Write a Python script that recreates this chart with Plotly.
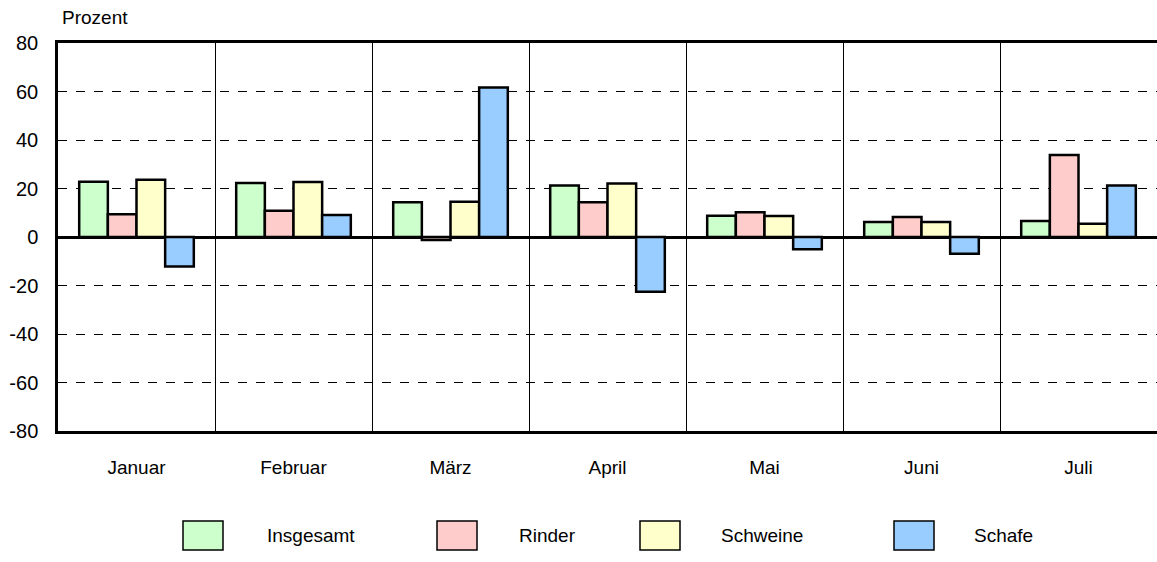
import plotly.graph_objects as go

months = ["Januar", "Februar", "März", "April", "Mai", "Juni", "Juli"]
series_names = ["Insgesamt", "Rinder", "Schweine", "Schafe"]
insgesamt = [22.8, 22.3, 14.3, 21.2, 8.8, 6.2, 6.6]
rinder = [9.4, 10.8, -1.2, 14.3, 10.2, 8.2, 33.8]
schweine = [23.6, 22.7, 14.5, 22.1, 8.7, 6.2, 5.5]
schafe = [-12.2, 9.1, 61.7, -22.6, -5.0, -6.9, 21.2]
y_ticks = [-80, -60, -40, -20, 0, 20, 40, 60, 80]
y_tick_labels = ["-80", "-60", "-40", "-20", "0", "20", "40", "60", "80"]

values = [insgesamt, rinder, schweine, schafe]
colors = ["#CCFFCC", "#FFCCCC", "#FFFFCC", "#99CCFF"]

FONT = "Liberation Sans, Arial, sans-serif"

fig = go.Figure()
for name, vals, col in zip(series_names, values, colors):
    fig.add_trace(go.Bar(
        x=months, y=vals, name=name,
        marker=dict(color=col, line=dict(color="black", width=2.5)),
        showlegend=False,
    ))

W, H = 1157, 562
L, R, T, B = 58, 0, 43, 131
pw = W - L - R
ph = H - T - B

def px2paper_x(px):
    return (px - L) / pw

def px2paper_y(py):
    return (H - B - py) / ph

# custom legend (big swatches)
sw_left = [183, 437, 640, 894]
txt_left = [265, 517, 719, 972]
sw_w, sw_top, sw_bot = 40, 521, 550
shapes = []
annotations = []
for name, col, sx, tx in zip(series_names, colors, sw_left, txt_left):
    shapes.append(dict(
        type="rect", xref="paper", yref="paper",
        x0=px2paper_x(sx), x1=px2paper_x(sx + sw_w),
        y0=px2paper_y(sw_bot), y1=px2paper_y(sw_top),
        fillcolor=col, line=dict(color="black", width=1.5),
    ))
    annotations.append(dict(
        text=name, xref="paper", yref="paper",
        x=px2paper_x(tx), y=px2paper_y((sw_top + sw_bot) / 2),
        xanchor="left", yanchor="middle", showarrow=False,
        font=dict(family=FONT, size=19, color="black"),
    ))

annotations.append(dict(
    text="Prozent", xref="paper", yref="paper",
    x=px2paper_x(60), y=px2paper_y(17),
    xanchor="left", yanchor="middle", showarrow=False,
    font=dict(family=FONT, size=19, color="black"),
))

fig.update_layout(
    width=W, height=H,
    margin=dict(l=L, r=R, t=T, b=B),
    plot_bgcolor="white", paper_bgcolor="white",
    barmode="group", bargap=0.27, bargroupgap=0,
    font=dict(family=FONT, size=19, color="black"),
    shapes=shapes, annotations=annotations,
    xaxis=dict(
        type="category", tickson="boundaries", ticks="",
        showgrid=True, gridcolor="black", gridwidth=1,
        showline=True, linecolor="black", linewidth=2.5, mirror=True,
        ticklabelstandoff=17,
        tickfont=dict(family=FONT, size=19),
    ),
    yaxis=dict(
        range=[-80, 80], tickvals=y_ticks, ticktext=y_tick_labels,
        showgrid=True, gridcolor="black", gridwidth=1, griddash="dash",
        zeroline=True, zerolinecolor="black", zerolinewidth=2.5,
        showline=True, linecolor="black", linewidth=2.5,
        ticks="", ticklabelstandoff=13,
        tickfont=dict(family=FONT, size=20),
    ),
)

fig.write_html(
    "out.html",
    config={"displayModeBar": False},
    post_script="document.body.style.margin='0';document.body.style.overflow='hidden';",
)
